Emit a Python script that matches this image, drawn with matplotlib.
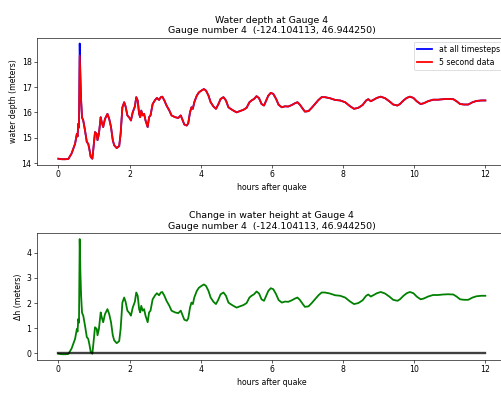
import numpy as np
import matplotlib
matplotlib.use("Agg")
import matplotlib.pyplot as plt

# Gauge 4 record: hours after the quake and water depth (m) at all timesteps
hours = [0.00, 0.10, 0.20, 0.28, 0.37, 0.47, 0.52, 0.54, 0.56, 0.58, 0.60,
         0.62, 0.64, 0.665, 0.70, 0.75, 0.80, 0.84, 0.87, 0.91, 0.955, 0.98,
         1.03, 1.08, 1.10, 1.14, 1.19, 1.22, 1.26, 1.31, 1.38, 1.43, 1.48,
         1.53, 1.57, 1.64, 1.71, 1.75, 1.80, 1.85, 1.89, 1.94, 2.00, 2.04,
         2.09, 2.15, 2.19, 2.23, 2.27, 2.30, 2.33, 2.37, 2.41, 2.45, 2.51,
         2.55, 2.59, 2.65, 2.72, 2.77, 2.83, 2.88, 2.92, 2.98, 3.04, 3.12,
         3.18, 3.28, 3.37, 3.44, 3.48, 3.54, 3.61, 3.65, 3.70, 3.74, 3.78,
         3.82, 3.89, 3.95, 4.02, 4.09, 4.15, 4.22, 4.28, 4.36, 4.43, 4.50,
         4.56, 4.64, 4.71, 4.78, 4.84, 4.92, 5.01, 5.10, 5.20, 5.29, 5.37,
         5.43, 5.50, 5.57, 5.64, 5.71, 5.78, 5.84, 5.90, 5.97, 6.04, 6.12,
         6.19, 6.28, 6.37, 6.46, 6.56, 6.65, 6.72, 6.79, 6.87, 6.93, 7.03,
         7.12, 7.21, 7.31, 7.40, 7.49, 7.63, 7.78, 7.92, 8.06, 8.20, 8.31,
         8.43, 8.55, 8.65, 8.71, 8.78, 8.85, 8.95, 9.06, 9.18, 9.30, 9.41,
         9.53, 9.60, 9.70, 9.79, 9.88, 9.98, 10.07, 10.18, 10.27, 10.39,
         10.53, 10.67, 10.81, 10.95, 11.10, 11.19, 11.29, 11.40, 11.52,
         11.64, 11.75, 11.89, 12.00]

depth = [14.17, 14.15, 14.15, 14.16, 14.37, 14.76, 15.15, 15.05, 15.55, 15.40, 18.72,
         17.38, 16.47, 15.80, 15.68, 15.28, 14.83, 14.76, 14.56, 14.24, 14.17, 14.50,
         15.22, 15.15, 14.90, 15.15, 15.81, 15.61, 15.42, 15.74, 15.94, 15.74, 15.42,
         14.90, 14.70, 14.59, 14.67, 15.15, 16.20, 16.40, 16.23, 15.88, 15.78, 15.68,
         16.00, 16.23, 16.60, 16.47, 15.94, 15.81, 16.07, 15.88, 15.94, 15.68, 15.42,
         15.81, 15.88, 16.33, 16.49, 16.57, 16.49, 16.60, 16.62, 16.47, 16.27, 16.07,
         15.88, 15.81, 15.78, 15.88, 15.74, 15.52, 15.48, 15.57, 16.00, 16.20, 16.14,
         16.40, 16.66, 16.79, 16.86, 16.92, 16.86, 16.66, 16.40, 16.23, 16.14, 16.33,
         16.53, 16.60, 16.47, 16.20, 16.14, 16.07, 16.00, 16.05, 16.10, 16.18, 16.40,
         16.47, 16.53, 16.64, 16.56, 16.33, 16.27, 16.47, 16.66, 16.77, 16.73, 16.53,
         16.30, 16.20, 16.24, 16.23, 16.29, 16.36, 16.40, 16.30, 16.14, 16.03, 16.05,
         16.18, 16.33, 16.49, 16.60, 16.60, 16.56, 16.49, 16.47, 16.40, 16.24, 16.14,
         16.18, 16.29, 16.47, 16.52, 16.44, 16.49, 16.57, 16.62, 16.56, 16.44, 16.31,
         16.27, 16.33, 16.47, 16.57, 16.62, 16.57, 16.44, 16.33, 16.36, 16.44,
         16.50, 16.50, 16.52, 16.53, 16.52, 16.44, 16.33, 16.31, 16.31,
         16.40, 16.45, 16.47, 16.47]

# 5-second samples miss the top of the first spike
peak_hour = 0.60
peak_5s = 18.24

# depth of still water at the gauge, used for the change in height
still_depth = 14.18

hours = np.array(hours)
depth = np.array(depth)
depth_5s = depth.copy()
depth_5s[np.argmin(np.abs(hours - peak_hour))] = peak_5s
dh = depth - still_depth

title_top = "Water depth at Gauge 4\nGauge number 4  (-124.104113, 46.944250)"
title_bot = "Change in water height at Gauge 4\nGauge number 4  (-124.104113, 46.944250)"

DPI = 56.2
W, H = 501, 394
fig = plt.figure(figsize=(W / DPI, H / DPI), dpi=DPI)

LW = 2.3

ax1 = fig.add_axes([37 / W, 1 - 165 / H, 469.7 / W, 127.3 / H])
ax1.plot(hours, depth, "b", lw=LW, label="at all timesteps")
ax1.plot(hours, depth_5s, "r", lw=LW, label="5 second data")
ax1.set_title(title_top)
ax1.set_xlabel("hours after quake")
ax1.set_ylabel("water depth (meters)")
ax1.set_xticks(range(0, 13, 2))
ax1.legend(loc="upper right")

ax2 = fig.add_axes([37 / W, 1 - 360 / H, 469.7 / W, 126.7 / H])
ax2.plot(hours, dh, "g", lw=LW)
ax2.plot([0, 12], [0, 0], color="k", alpha=0.75, lw=3)
ax2.set_title(title_bot)
ax2.set_xlabel("hours after quake")
ax2.set_ylabel("\u0394h (meters)")
ax2.set_xticks(range(0, 13, 2))

fig.savefig("out.png", dpi=DPI)
